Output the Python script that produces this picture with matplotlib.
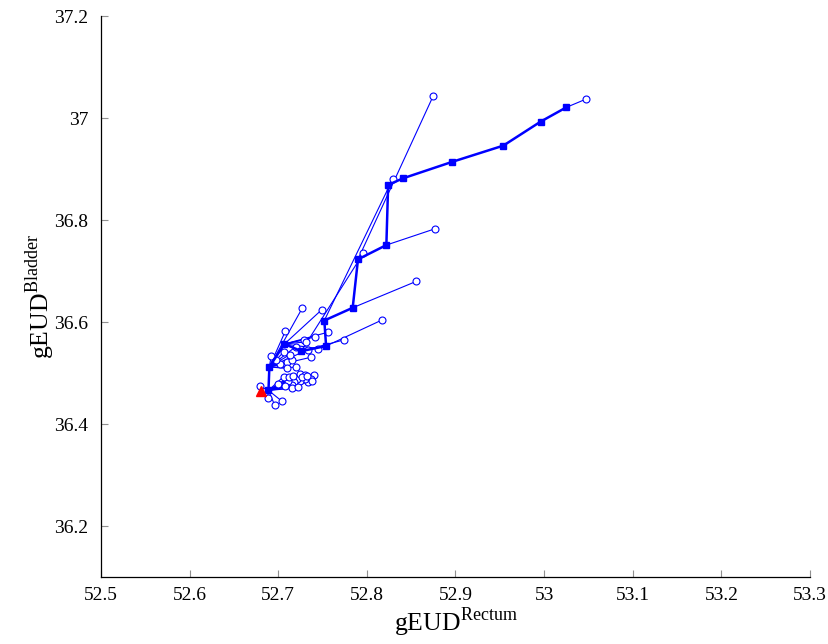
import matplotlib
matplotlib.use("Agg")
import matplotlib.pyplot as plt

plt.rcParams['font.family'] = ['Liberation Serif', 'DejaVu Serif']
plt.rcParams['mathtext.fontset'] = 'custom'
plt.rcParams['mathtext.rm'] = 'Liberation Serif'

# accepted iterates (thick path with squares)
path_x = [53.025, 52.996, 52.954, 52.896, 52.841, 52.824, 52.822, 52.790,
          52.784, 52.752, 52.754, 52.726, 52.707, 52.690, 52.689]
path_y = [37.021, 36.993, 36.946, 36.914, 36.882, 36.869, 36.751, 36.723,
          36.628, 36.603, 36.553, 36.543, 36.557, 36.512, 36.466]

# trial points (hollow circles) and the iterate they were tried from
trial_src = [0, 7, 9, 6, 11, 8, 10, 12, 13, 13, 12, 12, 13, 13, 12, 12, 12, 11,
             13, 13, 13, 13, 13, 13, 13, 13, 13, 13,
             14, 14, 14, 14, 14, 14, 14, 14, 14, 14, 14, 14, 14, 14, 14, 14, 14, 14,
             14, 14, 14, 14, 14, 14, 14]
trial_x = [53.047, 52.875, 52.829, 52.877, 52.796, 52.856, 52.817, 52.749, 52.727,
           52.708, 52.729, 52.731, 52.720, 52.734, 52.745, 52.742, 52.756, 52.774,
           52.706, 52.692, 52.710, 52.715, 52.720, 52.737, 52.702, 52.710, 52.698, 52.713,
           52.740, 52.737, 52.734, 52.730, 52.725, 52.721, 52.718, 52.715, 52.716,
           52.711, 52.704, 52.696, 52.688, 52.679, 52.725, 52.730, 52.706, 52.722,
           52.712, 52.717, 52.727, 52.733, 52.738, 52.700, 52.708]
trial_y = [37.037, 37.044, 36.880, 36.783, 36.735, 36.680, 36.604, 36.624, 36.627,
           36.582, 36.565, 36.561, 36.552, 36.546, 36.548, 36.571, 36.580, 36.565,
           36.541, 36.533, 36.522, 36.526, 36.511, 36.531, 36.517, 36.509, 36.526, 36.536,
           36.497, 36.489, 36.483, 36.488, 36.484, 36.488, 36.483, 36.476, 36.470,
           36.484, 36.445, 36.437, 36.451, 36.474, 36.499, 36.497, 36.493, 36.473,
           36.492, 36.495, 36.492, 36.494, 36.484, 36.478, 36.474]

# reference / optimal point
opt_x = [52.680]
opt_y = [36.465]

x_ticks = [52.5, 52.6, 52.7, 52.8, 52.9, 53.0, 53.1, 53.2, 53.3]
x_ticklabels = ['52.5', '52.6', '52.7', '52.8', '52.9', '53', '53.1', '53.2', '53.3']
y_ticks = [36.2, 36.4, 36.6, 36.8, 37.0, 37.2]
y_ticklabels = ['36.2', '36.4', '36.6', '36.8', '37', '37.2']

fig = plt.figure(figsize=(8.29, 6.44), dpi=100)
ax = fig.add_axes([0.1218, 0.104, 0.8553, 0.871])

blue = '#0000ff'
for s, tx, ty in zip(trial_src, trial_x, trial_y):
    ax.plot([path_x[s], tx], [path_y[s], ty], color=blue, lw=0.8, zorder=2)
ax.plot(trial_x, trial_y, linestyle='none', marker='o', markersize=5,
        markerfacecolor='white', markeredgecolor=blue, markeredgewidth=0.8, zorder=3)
ax.plot(path_x, path_y, color=blue, lw=1.8, marker='s', markersize=5,
        markerfacecolor=blue, markeredgecolor=blue, zorder=4)
ax.plot(opt_x, opt_y, linestyle='none', marker='^', markersize=6.5,
        color='red', zorder=5)

ax.set_xlim(52.5, 53.3)
ax.set_ylim(36.1, 37.2)
ax.set_xticks(x_ticks)
ax.set_xticklabels(x_ticklabels)
ax.set_yticks(y_ticks)
ax.set_yticklabels(y_ticklabels)
ax.spines['top'].set_visible(False)
ax.spines['right'].set_visible(False)
for sp in ('left', 'bottom'):
    ax.spines[sp].set_linewidth(0.9)
ax.tick_params(direction='in', length=5, width=0.8, color='#909090',
               labelsize=14, pad=7)
ax.tick_params(axis='y', pad=9)
ax.set_xlabel(r'gEUD$^{\mathrm{Rectum}}$', fontsize=18.5, labelpad=1)
ax.set_ylabel(r'gEUD$^{\mathrm{Bladder}}$', fontsize=18.5, labelpad=-2)

fig.savefig('out.png', dpi=100)
